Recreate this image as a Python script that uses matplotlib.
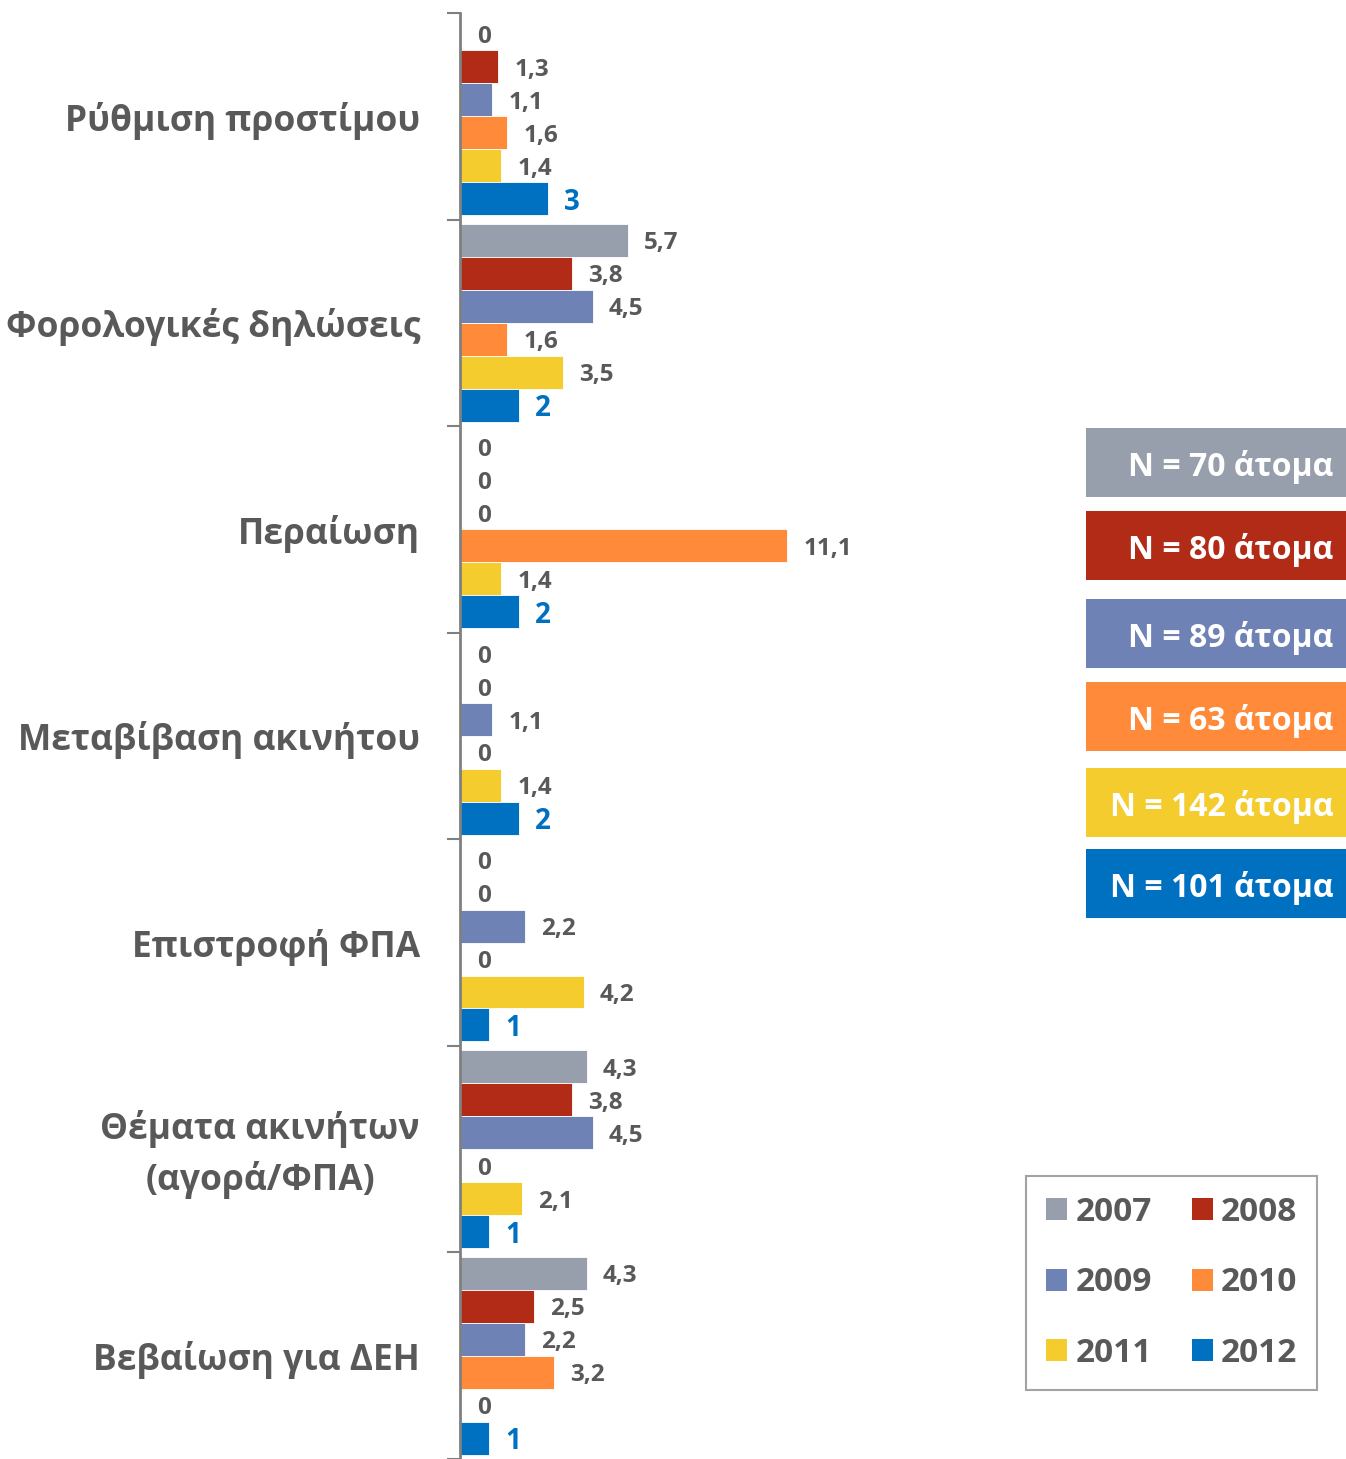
import matplotlib
matplotlib.use("Agg")
import matplotlib.pyplot as plt
from matplotlib.patches import Rectangle, Patch
import numpy as np

plt.rcParams['font.family'] = ['Open Sans', 'DejaVu Sans']

categories = ["Ρύθμιση προστίμου", "Φορολογικές δηλώσεις", "Περαίωση",
              "Μεταβίβαση ακινήτου", "Επιστροφή ΦΠΑ",
              "Θέματα ακινήτων\n(αγορά/ΦΠΑ)", "Βεβαίωση για ΔΕΗ"]
years = ["2007", "2008", "2009", "2010", "2011", "2012"]
v2007 = [0, 5.7, 0, 0, 0, 4.3, 4.3]
v2008 = [1.3, 3.8, 0, 0, 0, 3.8, 2.5]
v2009 = [1.1, 4.5, 0, 1.1, 2.2, 4.5, 2.2]
v2010 = [1.6, 1.6, 11.1, 0, 0, 0, 3.2]
v2011 = [1.4, 3.5, 1.4, 1.4, 4.2, 2.1, 0]
v2012 = [3, 2, 2, 2, 1, 1, 1]
sample_sizes = ["N = 70 άτομα", "N = 80 άτομα", "N = 89 άτομα",
                "N = 63 άτομα", "N = 142 άτομα", "N = 101 άτομα"]

series = [v2007, v2008, v2009, v2010, v2011, v2012]
colors = ["#979FAC", "#B22B17", "#6E82B5", "#FF8A3A", "#F4CC2E", "#0070C0"]
TXT = "#595959"

W, H = 1346, 1459
fig = plt.figure(figsize=(W / 100, H / 100), dpi=100)

ax_left = 460 / W
ax = fig.add_axes([ax_left, 0, 1 - ax_left, 1])
scale = 29.47  # px per unit
ax.set_xlim(0, (W - 460) / scale)
band = 207.2
top_px = 13
ax.set_ylim(-0.5 + (H - top_px) / band, -0.5 - top_px / band)

n = len(series)
h = 0.957 / n
y = np.arange(len(categories))
for j, (vals, col) in enumerate(zip(series, colors)):
    pos = y + (j - (n - 1) / 2) * h
    ax.barh(pos, vals, height=h, color=col, edgecolor='white', linewidth=0.6)
    for p, v in zip(pos, vals):
        lab = str(int(v)) if float(v).is_integer() else f"{v:.1f}".replace('.', ',')
        is_last = j == n - 1
        ax.annotate(lab, (v, p), xytext=(16 if v > 0 else 17, -3.5 if is_last else -3),
                    textcoords='offset pixels',
                    ha='left', va='center', fontsize=20 if is_last else 17.5,
                    fontweight='bold', color=colors[-1] if is_last else TXT)

for s in ['top', 'right', 'bottom']:
    ax.spines[s].set_visible(False)
ax.spines['left'].set_color('#808080')
ax.spines['left'].set_linewidth(2)
ax.spines['left'].set_bounds(-0.5, len(categories) - 0.5)
ax.set_xticks([])
ax.set_yticks(np.arange(len(categories) + 1) - 0.5)
ax.set_yticklabels([])
ax.tick_params(axis='y', length=9.5, width=1.5, color='#808080', direction='out')

# category labels
for i, cat in enumerate(categories):
    multi = '\n' in cat
    ax.annotate(cat, xy=(0, i), xycoords=('axes fraction', 'data'),
                xytext=(-40, -5 if multi else 0), textcoords='offset pixels',
                ha='right', va='center' if multi else 'center_baseline',
                multialignment='center', linespacing=1.45,
                fontsize=25.5, fontweight='bold', color=TXT, annotation_clip=False)

# N boxes
box_tops = [428, 511, 599, 682, 768, 849]
for t, col, lab in zip(box_tops, colors, sample_sizes):
    fig.patches.append(Rectangle((1086 / W, 1 - (t + 69) / H), (W - 1086) / W, 69 / H,
                                 transform=fig.transFigure, facecolor=col, edgecolor='none'))
    fig.text(1333 / W, 1 - (t + 39) / H, lab, ha='right', va='center', color='white',
             fontsize=23, fontweight='bold')

# legend (row-wise order)
handles = [Patch(facecolor=c, edgecolor='none') for c in colors]
order = [0, 2, 4, 1, 3, 5]
leg = fig.legend([handles[i] for i in order], [years[i] for i in order], ncol=2,
                 loc='upper left', bbox_to_anchor=(1026 / W, 1 - 1176 / H),
                 bbox_transform=fig.transFigure, frameon=True, fancybox=False,
                 borderaxespad=0,
                 prop={'size': 24, 'weight': 'bold'}, handlelength=0.63, handleheight=0.63,
                 handletextpad=0.25, columnspacing=1.2, labelspacing=1.12, borderpad=0.6)
for t in leg.get_texts():
    t.set_color(TXT)
leg.get_frame().set_edgecolor('#8C8C8C')
leg.get_frame().set_linewidth(1.5)

fig.savefig("out.png", dpi=100, facecolor='white')
